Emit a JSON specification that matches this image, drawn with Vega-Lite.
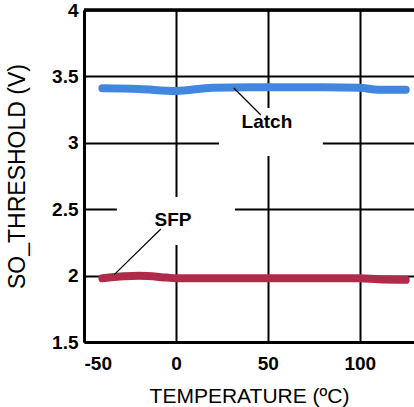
{
  "$schema": "https://vega.github.io/schema/vega-lite/v6.json",
  "width": 330,
  "height": 332,
  "autosize": "none",
  "padding": {"left": 84, "top": 10, "right": 0, "bottom": 65},
  "background": "white",
  "config": {
    "view": {"stroke": null},
    "font": "Liberation Sans",
    "axis": {
      "grid": true,
      "gridColor": "black",
      "gridWidth": 2,
      "gridOpacity": 1,
      "domainColor": "black",
      "domainWidth": 3,
      "ticks": false,
      "tickSize": 0,
      "labelFont": "Liberation Sans",
      "labelFontSize": 19,
      "labelFontWeight": "bold",
      "labelColor": "black",
      "labelExpr": "datum.value + ''",
      "titleFont": "Liberation Sans",
      "titleFontWeight": "normal",
      "titleColor": "black"
    }
  },
  "datasets": {
    "series": [
      {"temp": -40, "v": 3.41, "curve": "Latch"},
      {"temp": -20, "v": 3.405, "curve": "Latch"},
      {"temp": 0, "v": 3.39, "curve": "Latch"},
      {"temp": 20, "v": 3.415, "curve": "Latch"},
      {"temp": 40, "v": 3.418, "curve": "Latch"},
      {"temp": 60, "v": 3.418, "curve": "Latch"},
      {"temp": 80, "v": 3.418, "curve": "Latch"},
      {"temp": 100, "v": 3.415, "curve": "Latch"},
      {"temp": 110, "v": 3.4, "curve": "Latch"},
      {"temp": 125, "v": 3.4, "curve": "Latch"},
      {"temp": -40, "v": 1.98, "curve": "SFP"},
      {"temp": -20, "v": 1.998, "curve": "SFP"},
      {"temp": -5, "v": 1.985, "curve": "SFP"},
      {"temp": 0, "v": 1.98, "curve": "SFP"},
      {"temp": 50, "v": 1.98, "curve": "SFP"},
      {"temp": 100, "v": 1.98, "curve": "SFP"},
      {"temp": 110, "v": 1.972, "curve": "SFP"},
      {"temp": 125, "v": 1.968, "curve": "SFP"}
    ],
    "boxes": [
      {"x1": 23.4, "x2": 79.9, "y1": 2.901, "y2": 3.262},
      {"x1": -32.1, "x2": 32.1, "y1": 2.23, "y2": 2.592}
    ],
    "leaders": [
      {"x1": 31.5, "y1": 3.413, "x2": 46.2, "y2": 3.209},
      {"x1": -33.7, "y1": 2.005, "x2": -8.2, "y2": 2.351}
    ],
    "labels": [
      {"temp": 49.5, "v": 3.111, "text": "Latch"},
      {"temp": -1.6, "v": 2.374, "text": "SFP"}
    ],
    "top": [{"v": 4}]
  },
  "layer": [
    {
      "data": {"name": "series"},
      "mark": {"type": "line", "strokeWidth": 8, "strokeCap": "round", "interpolate": "monotone"},
      "encoding": {
        "x": {"field": "temp", "type": "quantitative", "scale": {"domain": [-50, 129.5], "nice": false, "zero": false}, "axis": {"values": [-50, 0, 50, 100], "title": "TEMPERATURE (ºC)", "titleFontSize": 21, "labelPadding": 12, "titlePadding": 12}},
        "y": {"field": "v", "type": "quantitative", "scale": {"domain": [1.5, 4], "nice": false, "zero": false}, "axis": {"values": [1.5, 2, 2.5, 3, 3.5, 4], "title": "SO_THRESHOLD (V)", "titleFontSize": 23, "labelPadding": 6, "titlePadding": 22}},
        "color": {"field": "curve", "type": "nominal", "scale": {"domain": ["Latch", "SFP"], "range": ["#4187e0", "#b02a4a"]}, "legend": null}
      }
    },
    {
      "data": {"name": "top"},
      "mark": {"type": "rule", "color": "black", "strokeWidth": 3.5},
      "encoding": {"y": {"field": "v", "type": "quantitative"}}
    },
    {
      "data": {"name": "boxes"},
      "mark": {"type": "rect", "color": "white", "opacity": 1},
      "encoding": {
        "x": {"field": "x1", "type": "quantitative"},
        "x2": {"field": "x2"},
        "y": {"field": "y1", "type": "quantitative"},
        "y2": {"field": "y2"}
      }
    },
    {
      "data": {"name": "leaders"},
      "mark": {"type": "rule", "color": "black", "strokeWidth": 1.2},
      "encoding": {
        "x": {"field": "x1", "type": "quantitative"},
        "x2": {"field": "x2"},
        "y": {"field": "y1", "type": "quantitative"},
        "y2": {"field": "y2"}
      }
    },
    {
      "data": {"name": "labels"},
      "mark": {"type": "text", "font": "Liberation Sans", "fontSize": 19, "fontWeight": "bold", "align": "center", "baseline": "alphabetic", "color": "black"},
      "encoding": {
        "x": {"field": "temp", "type": "quantitative"},
        "y": {"field": "v", "type": "quantitative"},
        "text": {"field": "text"}
      }
    }
  ]
}
